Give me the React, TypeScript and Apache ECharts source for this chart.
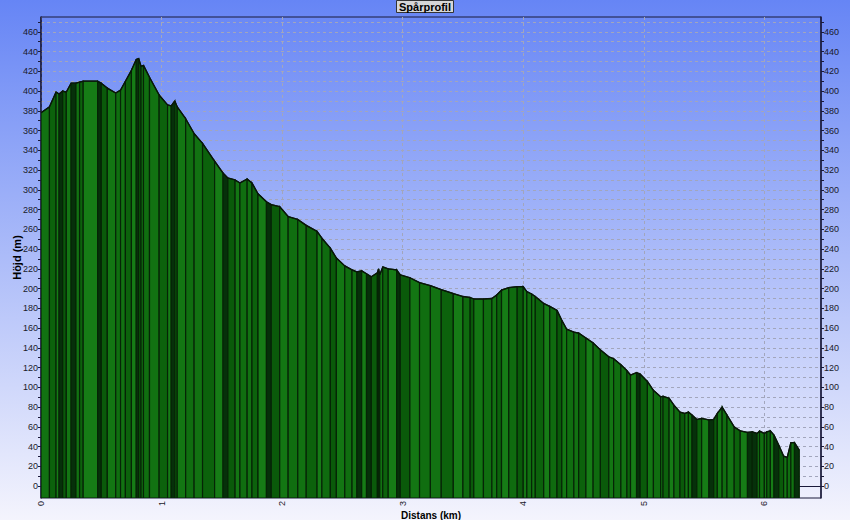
import React, { useEffect, useRef } from "react";
import * as echarts from "echarts";

// Distance along the track (km)
const distanceKm = [
  0.0, 0.07, 0.125, 0.15, 0.18, 0.21, 0.25, 0.29, 0.32, 0.35, 0.47, 0.5, 0.55, 0.62, 0.66, 0.7,
  0.75, 0.79, 0.81, 0.83, 0.85, 0.9, 0.98, 1.05, 1.08, 1.11, 1.13, 1.2, 1.27, 1.34, 1.44, 1.51,
  1.55, 1.61, 1.65, 1.71, 1.75, 1.8, 1.87, 1.91, 1.98, 2.05, 2.13, 2.2, 2.29, 2.33, 2.4, 2.45,
  2.52, 2.58, 2.62, 2.66, 2.7, 2.74, 2.79, 2.8, 2.81, 2.835, 2.88, 2.95, 2.98, 3.06, 3.14, 3.23,
  3.32, 3.42, 3.5, 3.56, 3.59, 3.67, 3.74, 3.78, 3.82, 3.88, 3.95, 4.0, 4.03, 4.07, 4.1, 4.17,
  4.22, 4.28, 4.32, 4.36, 4.42, 4.46, 4.52, 4.58, 4.64, 4.71, 4.75, 4.81, 4.86, 4.89, 4.94, 4.97,
  5.03, 5.08, 5.14, 5.16, 5.21, 5.25, 5.3, 5.34, 5.37, 5.4, 5.44, 5.48, 5.54, 5.58, 5.61, 5.65,
  5.69, 5.75, 5.8, 5.86, 5.9, 5.94, 5.96, 6.0, 6.02, 6.05, 6.08, 6.12, 6.16, 6.19, 6.22, 6.25,
  6.29,
];

// Elevation (m)
const elevationM = [
  378, 384, 399, 397, 400, 399, 408, 408, 409, 410, 410, 408, 403, 398, 401, 410,
  421, 432, 433, 425, 426, 414, 396, 386, 385, 390, 384, 372, 357, 347, 329, 317,
  312, 310, 307, 311, 307, 296, 288, 285, 283, 273, 270, 264, 258, 251, 241, 231,
  223, 219, 217, 218, 215, 212, 216, 220, 214, 222, 220, 219, 214, 211, 206, 203,
  199, 195, 192, 191, 189.5, 189.5, 190, 193.5, 198.5, 201, 202, 202, 197, 194.5, 192, 185,
  182, 178, 168, 159, 156, 155, 150, 145, 138, 131, 129, 123, 117, 112.5, 115, 113.5,
  106, 97, 90.5, 91, 89, 82, 75, 73.6, 75, 72, 67.5, 68.6, 67, 67.6, 73.6, 80,
  72, 60, 56, 54.4, 55, 53.4, 55.7, 53.4, 55, 56, 51.7, 41.5, 30.4, 29, 44, 44,
  36.5,
];

const heightLabels = [0, 20, 40, 60, 80, 100, 120, 140, 160, 180, 200, 220, 240, 260, 280, 300, 320, 340, 360, 380, 400, 420, 440, 460];
const heightGrid = [0, 10, 20, 30, 40, 50, 60, 70, 80, 90, 100, 110, 120, 130, 140, 150, 160, 170, 180, 190, 200, 210, 220, 230, 240, 250, 260, 270, 280, 290, 300, 310, 320, 330, 340, 350, 360, 370, 380, 390, 400, 410, 420, 430, 440, 450, 460, 470];
const distLabels = [0, 1, 2, 3, 4, 5, 6];

const Y_MIN = -12;
const Y_MAX = 475;
const X_MAX = 6.47;

const FILLS = ["#127212", "#0c620c", "#167c16", "#0f6b0f", "#0a5a0a", "#137613", "#106e10"];

export default function App() {
  const ref = useRef<HTMLDivElement>(null);

  useEffect(() => {
    if (!ref.current) return;
    const chart = echarts.init(ref.current, null, { renderer: "svg" });
    const font = "Liberation Sans, Arial, sans-serif";
    const pts = distanceKm.map((d, i) => [d, elevationM[i]]);

    const yCommon = {
      type: "value",
      min: Y_MIN,
      max: Y_MAX,
      axisLine: { show: true, lineStyle: { color: "#1a1a3a", width: 1.5 } },
      axisTick: { show: true, length: 3, lineStyle: { color: "#1a1a3a" }, customValues: heightGrid },
      axisLabel: { customValues: heightLabels, color: "#1a1a2a", fontSize: 9, fontFamily: font, margin: 3 },
    };

    chart.setOption({
      animation: false,
      backgroundColor: new echarts.graphic.LinearGradient(0, 0, 0, 1, [
        { offset: 0, color: "#6685f5" },
        { offset: 1, color: "#f4f4fd" },
      ]),
      title: {
        text: "Spårprofil",
        left: "center",
        top: 0,
        backgroundColor: "#d6d6d6",
        borderColor: "#333",
        borderWidth: 1,
        padding: [1, 3, 1, 3],
        textStyle: { fontSize: 11, fontWeight: "bold", color: "#000", fontFamily: font },
      },
      grid: {
        left: 41,
        top: 17,
        width: 780,
        height: 481,
        containLabel: false,
        outerBoundsMode: "none",
        show: true,
        borderColor: "#1a1a3a",
        borderWidth: 1,
        backgroundColor: "transparent",
      },
      xAxis: {
        type: "value",
        min: 0,
        max: X_MAX,
        interval: 1,
        name: "Distans (km)",
        nameLocation: "middle",
        nameGap: 12,
        nameMoveOverlap: false,
        nameTextStyle: { fontSize: 10, fontWeight: "bold", color: "#000", fontFamily: font },
        axisLine: { show: true, lineStyle: { color: "#1a1a3a", width: 1 } },
        axisTick: { show: true, length: 3, customValues: distLabels, lineStyle: { color: "#1a1a3a" } },
        axisLabel: {
          customValues: distLabels,
          rotate: 90,
          color: "#1a1a2a",
          fontSize: 9,
          fontFamily: font,
          margin: 3,
        },
        splitLine: { show: true, lineStyle: { color: "#a2a6bc", type: [3, 3], width: 1 } },
      },
      yAxis: [
        {
          ...yCommon,
          position: "left",
          name: "Höjd (m)",
          nameLocation: "middle",
          nameGap: 19,
          nameMoveOverlap: false,
          nameRotate: 90,
          nameTextStyle: { fontSize: 11, fontWeight: "bold", color: "#000", fontFamily: font },
          splitLine: { show: true, lineStyle: { color: "#a2a6bc", type: [3, 3], width: 1 } },
        },
        {
          ...yCommon,
          position: "right",
          splitLine: { show: false },
        },
      ],
      series: [
        {
          type: "custom",
          clip: true,
          encode: { x: 0, y: 1 },
          data: pts,
          renderItem: (params: any, api: any) => {
            const i = params.dataIndex;
            if (i >= distanceKm.length - 1) return null;
            const p0 = api.coord([distanceKm[i], elevationM[i]]);
            const p1 = api.coord([distanceKm[i + 1], elevationM[i + 1]]);
            const b0 = api.coord([distanceKm[i], Y_MIN]);
            const b1 = api.coord([distanceKm[i + 1], Y_MIN]);
            const narrow = p1[0] - p0[0] < 5;
            const dark = narrow && (i % 7 === 3 || i % 11 === 6);
            return {
              type: "polygon",
              shape: { points: [p0, p1, b1, b0] },
              style: {
                fill: dark ? "#06300a" : FILLS[i % FILLS.length],
                stroke: "#062406",
                lineWidth: 1.2,
              },
            };
          },
          z: 2,
        },
        {
          type: "line",
          data: pts,
          showSymbol: false,
          symbol: "none",
          lineStyle: { color: "#0a160a", width: 1.3 },
          z: 3,
        },
      ],
    });

    return () => chart.dispose();
  }, []);

  return (
    <div
      ref={ref}
      style={{ position: "fixed", left: 0, top: 0, width: 850, height: 520 }}
    />
  );
}
